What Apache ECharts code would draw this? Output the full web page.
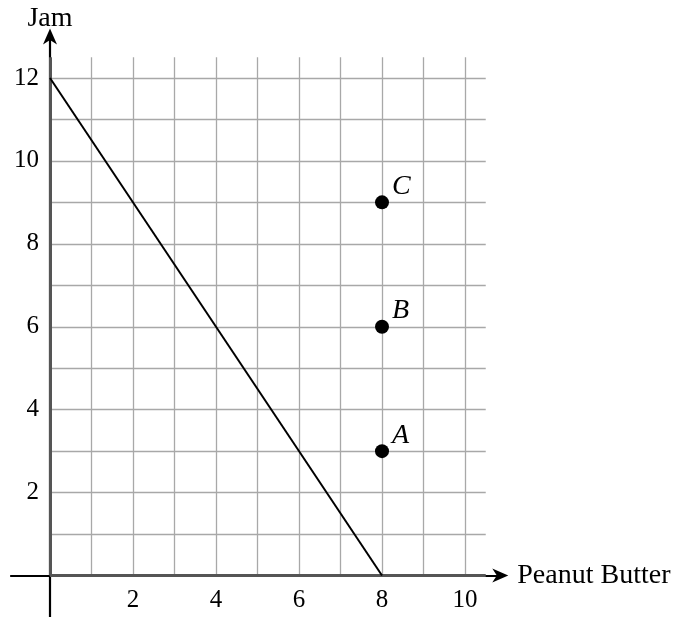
<!DOCTYPE html>
<html><head><meta charset="utf-8">
<script src="https://cdn.jsdelivr.net/npm/echarts@6/dist/echarts.min.js"></script>
<style>html,body{margin:0;padding:0;background:#fff}#c{width:684px;height:617px}</style>
</head><body><div id="c"></div>
<script>
// data
var xTicks = [2, 4, 6, 8, 10];
var yTicks = [2, 4, 6, 8, 10, 12];
var gridXs = [1, 2, 3, 4, 5, 6, 7, 8, 9, 10];
var gridYs = [1, 2, 3, 4, 5, 6, 7, 8, 9, 10, 11, 12];
var gridXMax = 10.5, gridYMax = 12.5;
var budgetLine = [[0, 12], [8, 0]];
var pointNames = ['A', 'B', 'C'];
var pointX = [8, 8, 8];
var pointY = [3, 6, 9];
var xAxisRange = [-0.96, 10.85];
var yAxisRange = [-1, 13];
var xTitle = 'Peanut Butter';
var yTitle = 'Jam';

var FONT = 'Liberation Serif';
var FS = 25;
var FT = 28;
var series = [];
// grid lines
var gridSegs = [];
gridXs.forEach(function (x) { gridSegs.push([{coord: [x, 0]}, {coord: [x, gridYMax]}]); });
gridYs.forEach(function (y) { gridSegs.push([{coord: [0, y]}, {coord: [gridXMax, y]}]); });
var arrowPath = 'path://M0,0 L10,14 L0,10 L-10,14 Z';
series.push({
  type: 'line', data: [], silent: true,
  markLine: {
    silent: true, symbol: 'none', animation: false,
    label: {show: false},
    lineStyle: {color: '#a8a8a8', width: 1.3, type: 'solid', opacity: 1},
    data: gridSegs
  }
});
// black axes with arrows
series.push({
  type: 'line', data: [], silent: true,
  markLine: {
    silent: true, animation: false, symbol: ['none', arrowPath], symbolSize: [14, 16],
    label: {show: false},
    itemStyle: {color: '#000'},
    lineStyle: {color: '#000', width: 2.2, type: 'solid', opacity: 1},
    data: [
      [{coord: [xAxisRange[0], 0]}, {coord: [xAxisRange[1], 0]}],
      [{coord: [0, yAxisRange[0]]}, {coord: [0, yAxisRange[1]]}]
    ]
  }
});
// gray thick axes in positive region
series.push({
  type: 'line', data: [], silent: true,
  markLine: {
    silent: true, animation: false, symbol: 'none',
    label: {show: false},
    lineStyle: {color: '#555', width: 3, type: 'solid', opacity: 1},
    data: [
      [{coord: [0, 0]}, {coord: [gridXMax, 0]}],
      [{coord: [0, 0]}, {coord: [0, gridYMax]}]
    ]
  }
});
// budget line
series.push({
  type: 'line', data: budgetLine, symbol: 'none', silent: true, animation: false,
  lineStyle: {color: '#000', width: 2}, z: 5
});
// points
series.push({
  type: 'scatter', z: 6, animation: false, symbolSize: 14,
  itemStyle: {color: '#000', opacity: 1},
  data: pointNames.map(function (n, i) { return {value: [pointX[i], pointY[i]], name: n}; }),
  label: {
    show: true, formatter: '{b}', position: [17, -23],
    fontFamily: FONT, fontStyle: 'italic', fontSize: FT, color: '#000'
  }
});
var lbl = function (pos, dist, fs) {
  return {show: true, formatter: '{b}', position: pos, distance: dist,
    fontFamily: FONT, fontSize: fs, color: '#000'};
};
// tick labels
series.push({
  type: 'scatter', symbolSize: 0, silent: true, animation: false,
  itemStyle: {opacity: 1},
  data: xTicks.map(function (v) { return {value: [v, 0], name: String(v)}; }),
  label: lbl('bottom', 12, FS)
});
series.push({
  type: 'scatter', symbolSize: 0, silent: true, animation: false,
  itemStyle: {opacity: 1},
  data: yTicks.map(function (v) { return {value: [0, v], name: String(v)}; }),
  label: lbl('left', 11, FS)
});
// axis titles
series.push({
  type: 'scatter', symbolSize: 0, silent: true, animation: false,
  itemStyle: {opacity: 1},
  data: [{value: [xAxisRange[1], 0], name: xTitle}],
  label: lbl('right', 17, FT)
});
series.push({
  type: 'scatter', symbolSize: 0, silent: true, animation: false,
  itemStyle: {opacity: 1},
  data: [{value: [0, yAxisRange[1]], name: yTitle}],
  label: lbl('top', 4, FT)
});

var chart = echarts.init(document.getElementById('c'), null, {renderer: 'canvas'});
chart.setOption({
  animation: false,
  backgroundColor: '#fff',
  grid: {left: 8.5, right: 684 - 506.5, top: 36.5, bottom: -0.5, containLabel: false},
  xAxis: {type: 'value', min: -1, max: 11, show: false},
  yAxis: {type: 'value', min: -1, max: 13, show: false},
  series: series
});
</script></body></html>
